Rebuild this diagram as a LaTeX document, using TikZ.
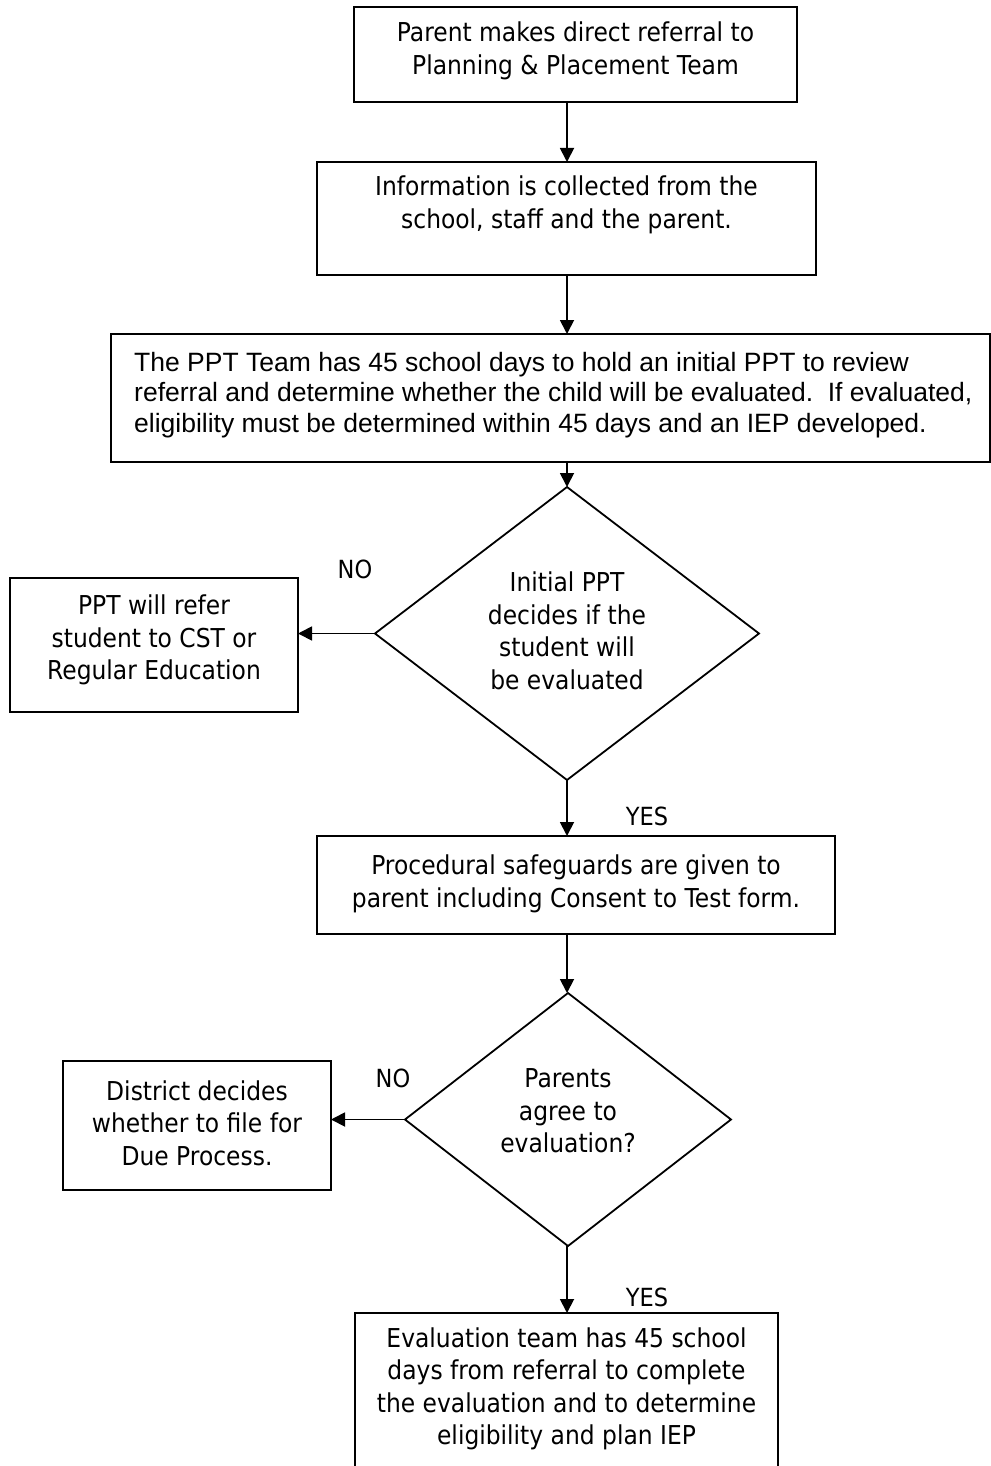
\documentclass[tikz,border=0pt]{standalone}
\usepackage{fontspec}
\usetikzlibrary{arrows.meta,shapes.geometric}
\newfontfamily\tah[FakeStretch=0.9]{DejaVu Sans}
\newfontfamily\arialf{Liberation Sans}
\begin{document}
\begin{tikzpicture}[x=1pt,y=-1pt,
  box/.style={draw,line width=2pt,inner sep=0pt,outer sep=0pt},
  dia/.style={draw,line width=1.8pt,diamond,inner sep=0pt,outer sep=0pt},
  txt/.style={align=center,font=\tah\fontsize{26}{32.5}\selectfont,inner sep=0pt},
  lbl/.style={font=\tah\fontsize{25}{28}\selectfont,inner sep=0pt},
  arr/.style={line width=1.8pt,-{Triangle[length=14pt,width=14pt]}}]
\useasboundingbox (0,0) rectangle (990,1466);
\coordinate (spine) at (567,0);
% boxes
\node[box,minimum width=443pt,minimum height=95pt] (b1) at (575.5,54.5) {};
\node[txt] at (575.5,51) {Parent makes direct referral to\\Planning \& Placement Team};
\node[box,minimum width=499pt,minimum height=113pt] (b2) at (566.5,218.5) {};
\node[txt] at (566.5,205) {Information is collected from the\\school, staff and the parent.};
\node[box,minimum width=879pt,minimum height=128pt] (b3) at (550.5,398) {};
\node[align=left,anchor=west,inner sep=0pt,font=\arialf\fontsize{26.5}{30.5}\selectfont] at (134,395)
  {The PPT Team has 45 school days to hold an initial PPT to review\\referral and determine whether the child will be evaluated.\ \ If evaluated,\\eligibility must be determined within 45 days and an IEP developed.};
\node[dia,minimum width=384pt,minimum height=293pt] (d1) at (567,633.5) {};
\node[txt] at (567,631) {Initial PPT\\decides if the\\student will\\be evaluated};
\node[box,minimum width=288pt,minimum height=134pt] (b4) at (154,645) {};
\node[txt] at (154,640) {PPT will refer\\student to CST or\\Regular Education};
\node[box,minimum width=518pt,minimum height=98pt] (b5) at (576,885) {};
\node[txt] at (576,884) {Procedural safeguards are given to\\parent including Consent to Test form.};
\node[dia,minimum width=326pt,minimum height=253pt] (d2) at (568,1119.5) {};
\node[txt] at (568,1111) {Parents\\agree to\\evaluation?};
\node[box,minimum width=268pt,minimum height=129pt] (b6) at (197,1125.5) {};
\node[txt] at (197,1123) {District decides\\whether to file for\\Due Process.};
\node[box,minimum width=423pt,minimum height=200pt] (b7) at (566.5,1413) {};
\node[txt] at (566.5,1389) {Evaluation team has 45 school\\days from referral to complete\\the evaluation and to determine\\eligibility and plan IEP};
% labels
\node[lbl] at (355,569) {NO};
\node[lbl] at (393,1078) {NO};
\node[lbl] at (647,816) {YES};
\node[lbl] at (647,1297) {YES};
% connectors
\draw[arr] (b1.south -| spine) -- (b2.north -| spine);
\draw[arr] (b2.south -| spine) -- (b3.north -| spine);
\draw[arr] (b3.south -| spine) -- (d1.north);
\draw[arr] (d1.west) -- (d1.west -| b4.east);
\draw[arr] (d1.south) -- (b5.north -| spine);
\draw[arr] (b5.south -| spine) -- (d2.north -| spine);
\draw[arr] (d2.west) -- (d2.west -| b6.east);
\draw[arr] (d2.south -| spine) -- (b7.north -| spine);
\end{tikzpicture}
\end{document}
